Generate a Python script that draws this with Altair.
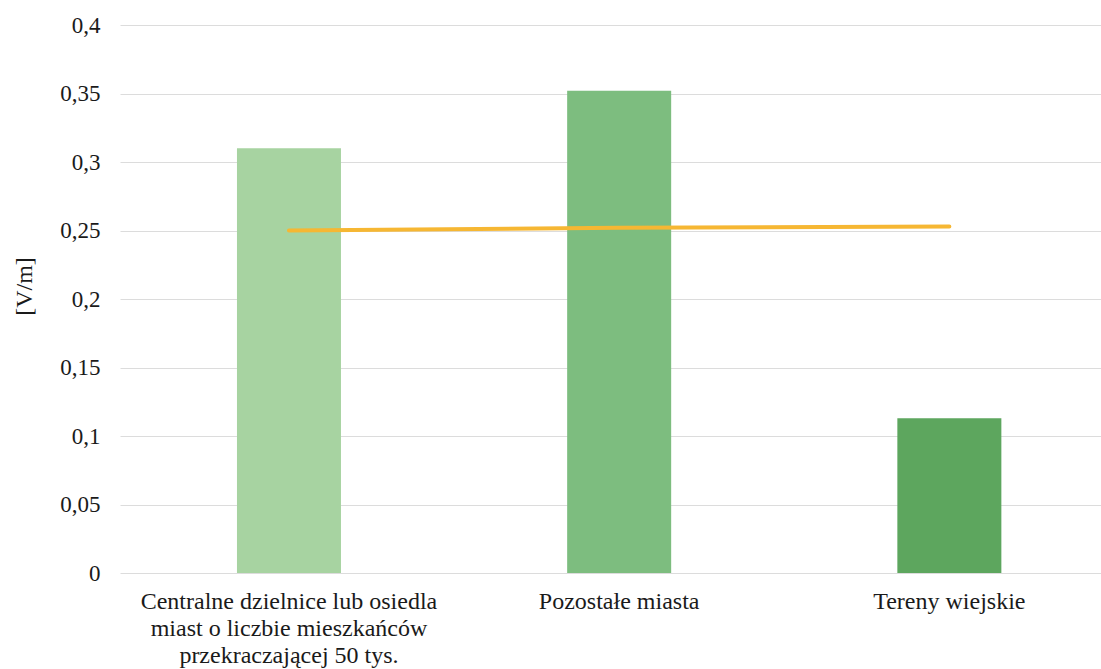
import altair as alt
import pandas as pd

# Categories (newline marks where each axis label wraps)
categories = [
    "Centralne dzielnice lub osiedla\nmiast o liczbie mieszkańców\nprzekraczającej 50 tys.",
    "Pozostałe miasta",
    "Tereny wiejskie",
]
# Mean field strength per area type [V/m]
bar_values = [0.310, 0.352, 0.113]
# Reference line across the categories [V/m]
line_values = [0.250, 0.252, 0.253]

bar_colors = ["#a7d3a1", "#7dbd7f", "#5da65e"]
line_color = "#f6b733"
y_ticks = [0, 0.05, 0.1, 0.15, 0.2, 0.25, 0.3, 0.35, 0.4]

df = pd.DataFrame({"kategoria": categories, "wartosc": bar_values, "linia": line_values})

FONT = "Liberation Serif"

x_enc = alt.X(
    "kategoria:N",
    sort=categories,
    title=None,
    scale=alt.Scale(paddingInner=0.685, paddingOuter=0.328, align=0.54),
    axis=alt.Axis(
        labelAngle=0,
        domain=False,
        ticks=False,
        grid=False,
        labelFontSize=24,
        labelColor="#1a1a1a",
        labelPadding=16,
        labelLineHeight=27,
        labelLimit=0,
        labelExpr="split(datum.label, '\\n')",
    ),
)

y_scale = alt.Scale(domain=[0, 0.4], nice=False)

bars = alt.Chart(df).mark_bar().encode(
    x=x_enc,
    y=alt.Y(
        "wartosc:Q",
        scale=y_scale,
        title="[V/m]",
        axis=alt.Axis(
            values=y_ticks,
            domain=False,
            ticks=False,
            grid=True,
            gridColor="#dcdcdc",
            gridWidth=1,
            labelFontSize=23,
            labelColor="#1a1a1a",
            labelPadding=20,
            labelExpr="replace(format(datum.value, '~g'), '.', ',')",
            titleFontSize=24,
            titleFontWeight="normal",
            titleColor="#1a1a1a",
            titleX=-96,
            titleY=261,
            titleAlign="center",
            titleBaseline="middle",
        ),
    ),
    color=alt.Color(
        "kategoria:N",
        sort=categories,
        scale=alt.Scale(domain=categories, range=bar_colors),
        legend=None,
    ),
)

line = alt.Chart(df).mark_line(color=line_color, strokeWidth=4, strokeCap="round").encode(
    x=alt.X("kategoria:N", sort=categories),
    y=alt.Y("linia:Q", scale=y_scale),
)

chart = (
    alt.layer(bars, line)
    .properties(
        width=981,
        height=548,
        padding={"left": 120, "top": 25, "right": 0, "bottom": 96},
        autosize=alt.AutoSizeParams(type="none"),
        background="white",
    )
    .configure(font=FONT)
    .configure_axis(labelFont=FONT, titleFont=FONT)
    .configure_view(stroke=None)
)

chart.save("out.html", embed_options={"renderer": "svg", "actions": False})
